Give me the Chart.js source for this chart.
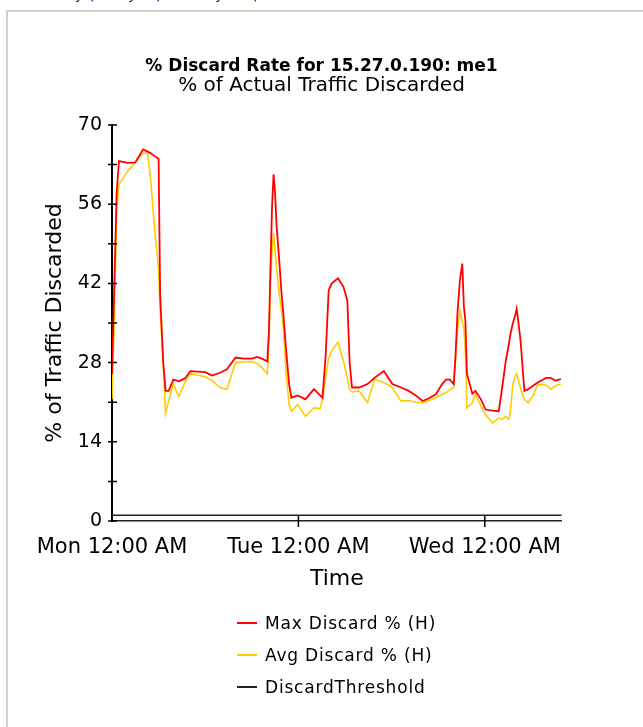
<!DOCTYPE html>
<html>
<head>
<meta charset="utf-8">
<script src="https://cdn.jsdelivr.net/npm/chart.js@4.4.1/dist/chart.umd.min.js"></script>
<style>
  body { margin: 0; background: #fff; width: 643px; height: 727px; overflow: hidden; position: relative; font-family: "DejaVu Sans", sans-serif; }
  #tabs { position: absolute; left: 0; top: -12px; font-size: 13px; line-height: 13px; color: #000; }
  #tabs span { position: absolute; white-space: pre; }
  #panel { position: absolute; left: 6px; top: 10px; width: 650px; height: 730px; border: 2px solid #d4d0c8; }
  #wrap { position: absolute; left: 0; top: 0; width: 643px; height: 727px; }
  #legend { position: absolute; left: 237px; top: 607px; font-size: 17px; letter-spacing: 0.8px; color: #000; }
  .item { height: 32px; display: flex; align-items: center; }
  .swatch { width: 20px; height: 2px; margin-right: 8px; }
</style>
</head>
<body>
<div id="tabs"><span style="left:40px">Hourly</span><span style="left:90px">|</span><span style="left:103px">Daily</span><span style="left:156px">|</span><span style="left:171px">Monthly</span><span style="left:253px">|</span></div>
<div id="panel"></div>
<div id="wrap"><canvas id="chart" width="643" height="727"></canvas></div>
<div id="legend"></div>
<script>
// hours since Mon 12:00 AM
const hours = [0, 0.3, 0.6, 0.9, 2, 3, 4, 4.6, 5, 5.5, 6, 6.2, 6.6, 6.9, 7.3, 7.9, 8.6, 9.4, 10.1, 11,
  12, 12.9, 13.9, 14.8, 15.9, 17, 18, 18.7, 19.3, 20, 20.2, 20.4, 20.6, 20.8, 21, 21.2, 21.5, 21.8, 22.1, 22.4,
  22.8, 23.1, 23.9, 24.9, 26, 26.8, 27.1, 27.5, 27.9, 28.3, 29.1, 29.8, 30.3, 30.6, 30.9, 31.8, 32.9, 33.8, 35, 36.1,
  37.2, 38.2, 39.1, 40, 40.8, 41.7, 42.5, 43, 43.5, 44, 44.2, 44.5, 44.8, 45.1, 45.3, 45.5, 45.7, 46.4, 46.8, 47.5,
  48.1, 49, 49.8, 50.3, 50.7, 51.1, 51.3, 51.6, 51.9, 52.1, 52.3, 52.6, 53.1, 53.6, 54.3, 54.8, 55.9, 56.5, 57.1, 57.8]
const maxDiscard = [26, 42, 58, 63.6, 63.3, 63.4, 65.7, 65.3, 65, 64.5, 64, 40, 28, 23, 23, 25, 24.7, 25.2, 26.5, 26.4,
  26.3, 25.7, 26.2, 26.8, 28.9, 28.7, 28.7, 29, 28.7, 28.2, 33.4, 44.4, 55.3, 61.3, 58, 52, 46.7, 40.8, 36, 30.5,
  24.2, 21.8, 22.2, 21.5, 23.3, 22.2, 21.8, 29, 40.8, 42, 42.9, 41.4, 39, 28, 23.6, 23.6, 24.2, 25.3, 26.5, 24.2,
  23.6, 23, 22.2, 21.2, 21.7, 22.4, 24.2, 25, 25, 24.2, 28.5, 37.2, 42.6, 45.5, 38, 35.4, 26, 22.5, 23, 21.5,
  19.7, 19.5, 19.4, 24.2, 28.3, 31.3, 33, 34.9, 36.3, 37.5, 35.4, 31.9, 23, 23.3, 24, 24.5, 25.3, 25.3, 24.8, 25.1]
const avgDiscard = [21.5, 36, 54.5, 59.5, 61.8, 63.4, 65, 65, 60, 51.5, 44.4, 37, 27.8, 19, 21.3, 24.2, 22, 24.5, 26, 25.8,
  25.5, 24.8, 23.6, 23.3, 28, 28.1, 28.2, 27.8, 27.1, 26, 32, 42, 47.5, 50.9, 47.9, 44.4, 40.5, 37.5, 33.6, 26.5,
  20.6, 19.4, 20.6, 18.5, 20, 19.9, 21.5, 25.3, 28.9, 30.1, 31.6, 28.3, 25.3, 23.2, 22.8, 23, 20.9, 25, 24.5, 23.6,
  21.2, 21.3, 21, 20.9, 21.3, 21.8, 22.4, 22.7, 23.2, 23.6, 28, 34, 37.2, 35.2, 34.2, 30, 20, 20.9, 22.4, 20.3,
  18.8, 17.3, 18.2, 18, 18.5, 18, 19.4, 24.2, 25.5, 26, 25, 23.5, 21.5, 20.9, 22.4, 24.2, 24, 23.3, 23.9, 24.2]
const thresholdHours = [0, 57.9]
const thresholdValues = [1, 1]

const dayTicks = [0, 24, 48]
const dayLabels = ['Mon 12:00 AM', 'Tue 12:00 AM', 'Wed 12:00 AM']
const yTicks = [0, 7, 14, 21, 28, 35, 42, 49, 56, 63, 70]
const seriesNames = ['Max Discard % (H)', 'Avg Discard % (H)', 'DiscardThreshold']
const seriesColors = ['#ff0000', '#ffcc00', '#222222']

Chart.defaults.font.family = '"DejaVu Sans", sans-serif'
Chart.defaults.color = '#000'

function pts(xs, ys) {
    return xs.map((h, i) => ({ x: h, y: ys[i] }))
}

// tick marks that cross the axis lines, like the original report
const crossTicks = {
    id: 'crossTicks',
    afterDatasetsDraw(chart) {
        const { ctx, scales: { x, y } } = chart
        ctx.save()
        ctx.strokeStyle = '#000'
        ctx.lineWidth = 1.5
        ctx.beginPath()
        y.ticks.forEach(t => {
            const py = y.getPixelForValue(t.value)
            ctx.moveTo(x.left - 4, py)
            ctx.lineTo(x.left + 5, py)
        })
        x.ticks.forEach(t => {
            if (t.value === 0) return
            const px = x.getPixelForValue(t.value)
            ctx.moveTo(px, y.getPixelForValue(thresholdValues[0]))
            ctx.lineTo(px, y.bottom + 6)
        })
        ctx.stroke()
        ctx.restore()
    }
}

const data = {
    datasets: [
        { label: seriesNames[0], data: pts(hours, maxDiscard), borderColor: seriesColors[0], borderWidth: 1.8, yAxisID: 'y' },
        { label: seriesNames[1], data: pts(hours, avgDiscard), borderColor: seriesColors[1], borderWidth: 1.6, yAxisID: 'y' },
        { label: seriesNames[2], data: pts(thresholdHours, thresholdValues), borderColor: seriesColors[2], borderWidth: 1.5, yAxisID: 'y' }
    ]
}

const config = {
    type: 'line',
    data: data,
    options: {
        responsive: false,
        animation: false,
        devicePixelRatio: 1,
        elements: { point: { radius: 0 }, line: { tension: 0 } },
        layout: { padding: { left: 0, right: 0, top: 0, bottom: 135 } },
        plugins: {
            legend: { display: false },
            tooltip: { enabled: false },
            title: {
                display: true,
                text: '% Discard Rate for 15.27.0.190: me1',
                font: { size: 17, weight: 'bold', lineHeight: 0.8 },
                color: '#000',
                padding: { top: 59.7, bottom: 0 }
            },
            subtitle: {
                display: true,
                text: '% of Actual Traffic Discarded',
                font: { size: 20, lineHeight: 1 },
                color: '#000',
                padding: { top: 2.7, bottom: 29 }
            }
        },
        scales: {
            x: {
                type: 'linear',
                min: 0,
                max: 57.9,
                afterBuildTicks: s => { s.ticks = dayTicks.map(v => ({ value: v })) },
                afterFit: s => { s.height = 71 },
                ticks: {
                    callback: v => dayLabels[dayTicks.indexOf(v)],
                    font: { size: 21 },
                    color: '#000',
                    padding: 14,
                    maxRotation: 0,
                    autoSkip: false
                },
                grid: { display: false, drawTicks: false },
                border: { display: true, color: '#222', width: 1.5 },
                title: { display: true, text: 'Time', font: { size: 22 }, color: '#000', padding: { top: 0, bottom: 0 } }
            },
            y: {
                min: 0,
                max: 70,
                afterBuildTicks: s => { s.ticks = yTicks.map(v => ({ value: v })) },
                afterFit: s => { s.width = 112 },
                ticks: {
                    callback: v => (v % 14 === 0 ? v : ''),
                    font: { size: 19 },
                    color: '#000',
                    padding: 10
                },
                grid: { display: false, drawTicks: false },
                border: { display: true, color: '#000', width: 2 },
                title: { display: true, text: '% of Traffic Discarded', font: { size: 22 }, color: '#000', padding: { top: 42, bottom: 0 } }
            },
            // empty right-hand margin so the titles stay centred on the page
            yRight: {
                position: 'right',
                afterFit: s => { s.width = 81.3 },
                ticks: { display: false },
                grid: { display: false, drawTicks: false },
                border: { display: false }
            }
        }
    },
    plugins: [crossTicks]
}

const chart = new Chart(document.getElementById('chart'), config)

// legend as a vertical list under the chart
const legend = document.getElementById('legend')
chart.data.datasets.forEach(ds => {
    const row = document.createElement('div')
    row.className = 'item'
    const sw = document.createElement('span')
    sw.className = 'swatch'
    sw.style.background = ds.borderColor
    const txt = document.createElement('span')
    txt.textContent = ds.label
    row.appendChild(sw)
    row.appendChild(txt)
    legend.appendChild(row)
})
</script>
</body>
</html>
